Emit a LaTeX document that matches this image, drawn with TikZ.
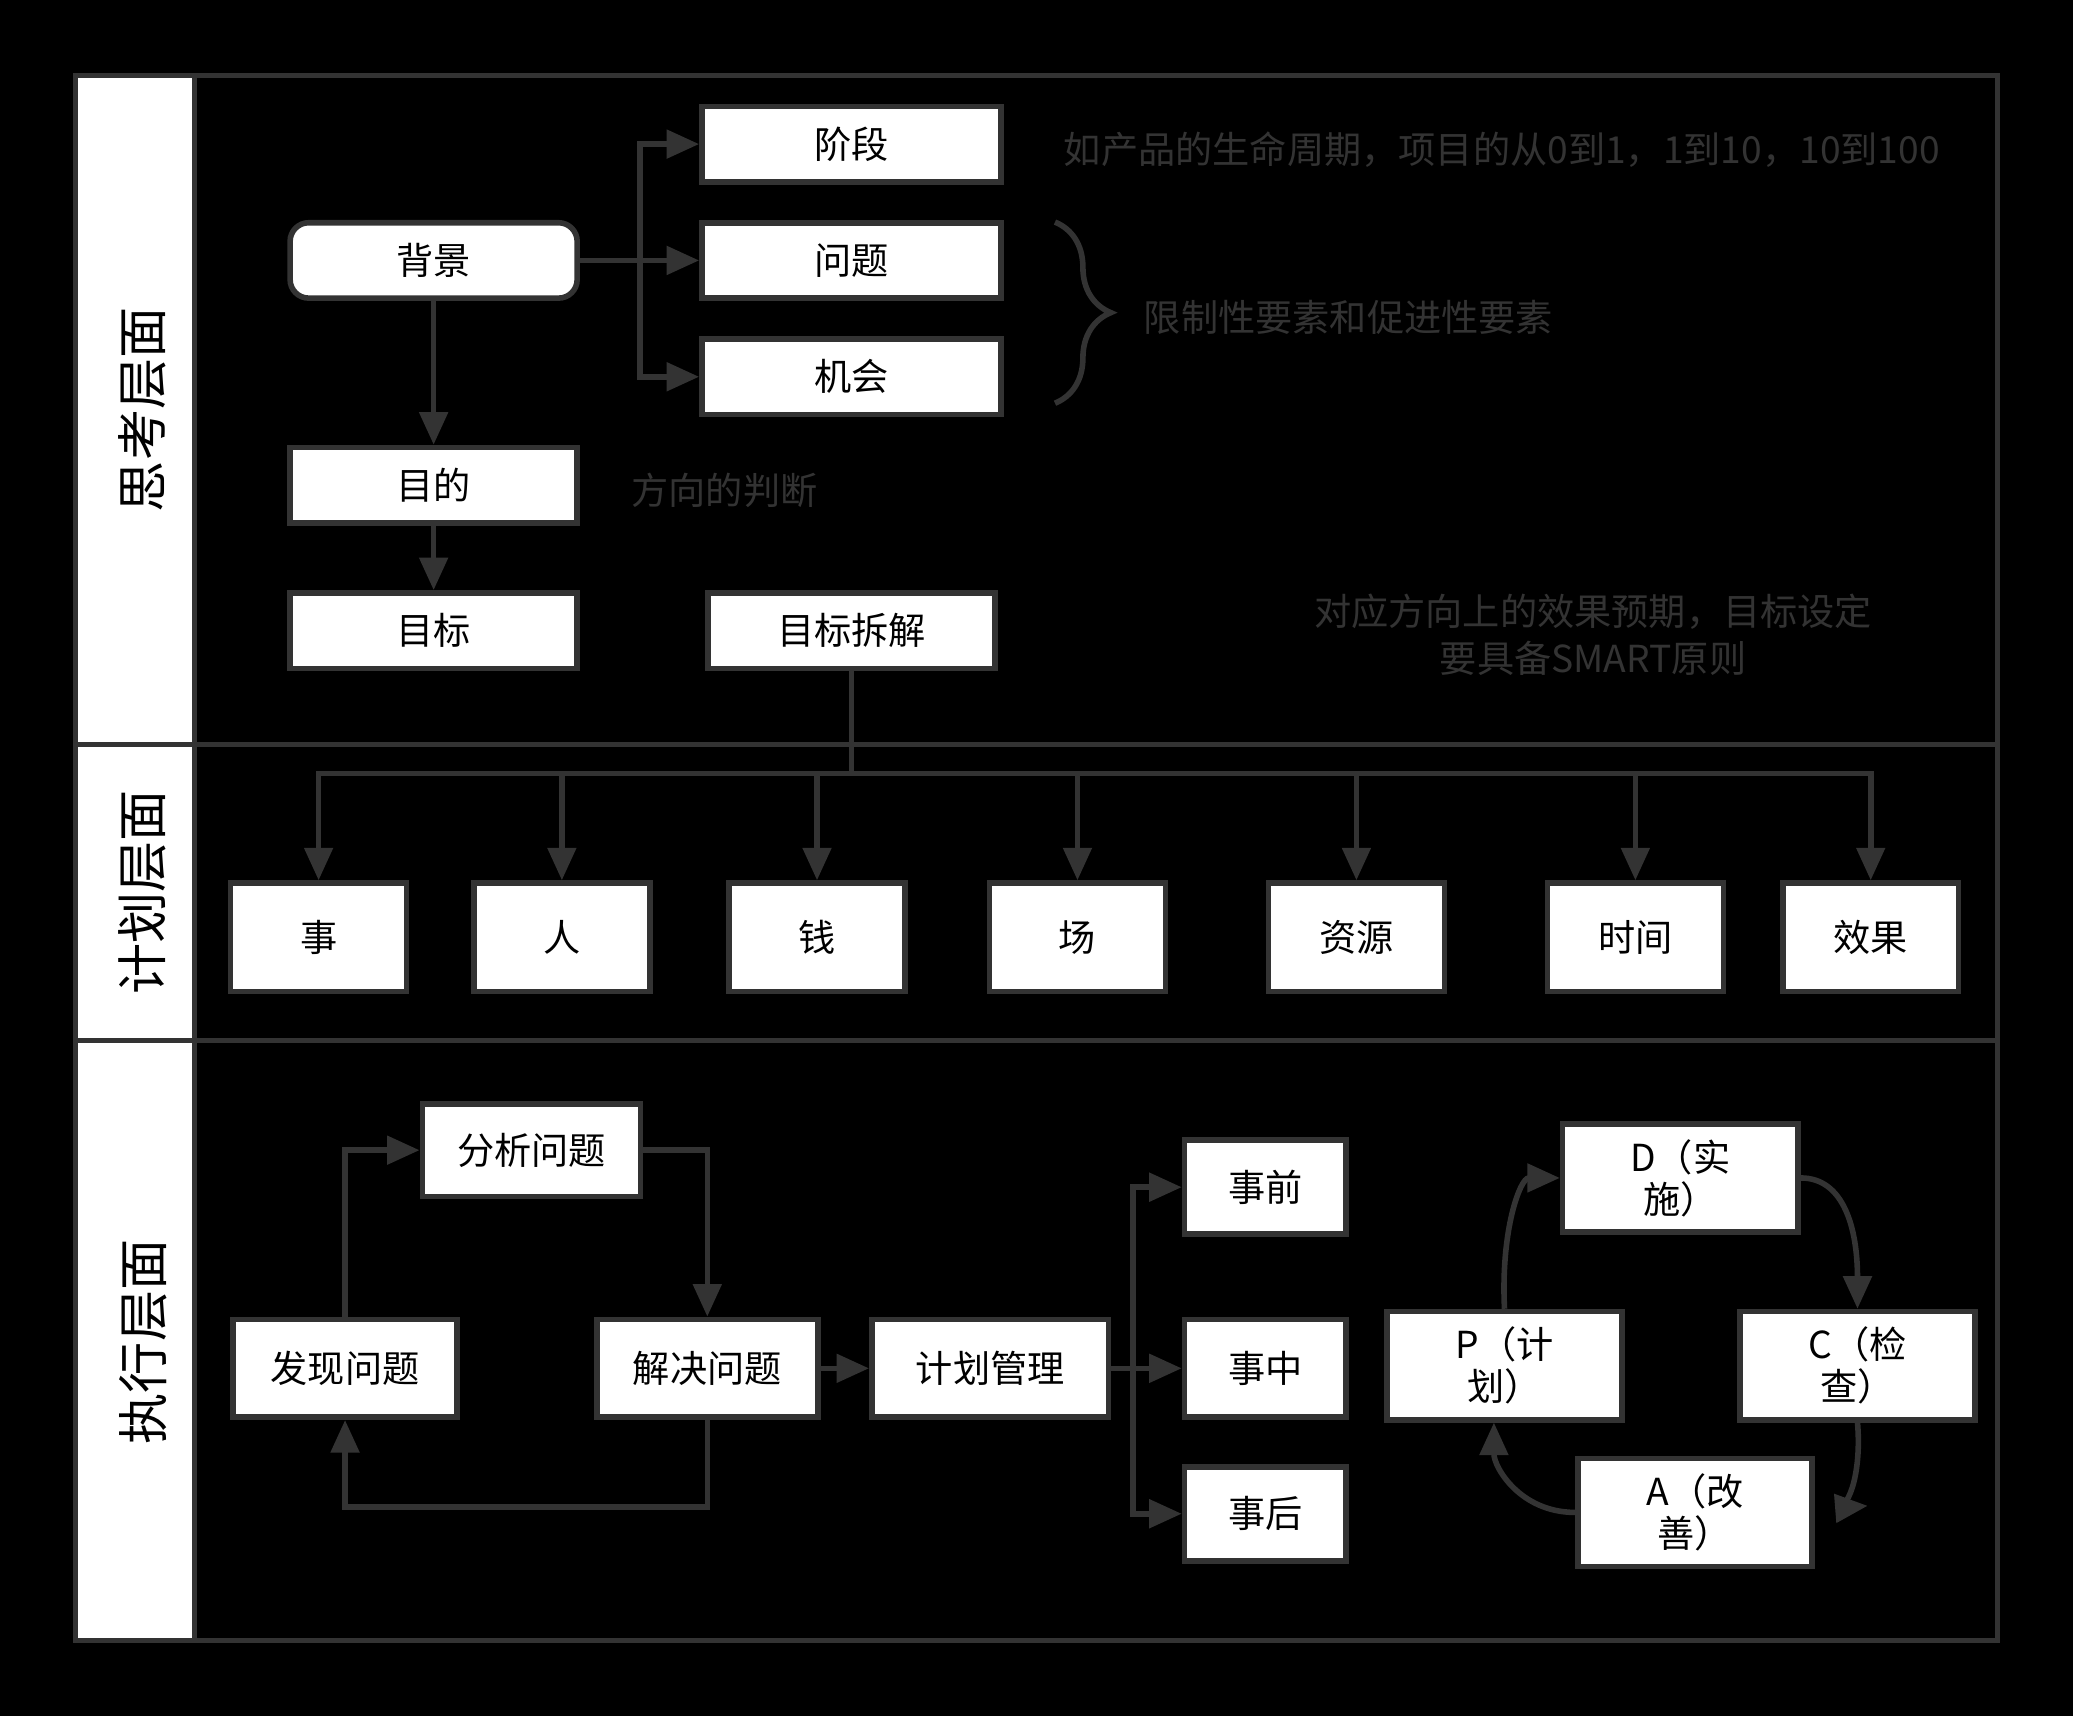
\documentclass[tikz,border=0pt]{standalone}
\usepackage{fontspec}
\setmainfont{Noto Sans CJK SC}
\usetikzlibrary{arrows.meta, positioning, calc, decorations.pathreplacing}
\definecolor{linegray}{RGB}{51, 51, 51}
\tikzstyle{box} = [rectangle, draw=linegray, line width=1.2pt, fill=white, minimum width=2.17cm, minimum height=0.57cm, text centered, text=black, font=\fontsize{8}{9}\selectfont]
\tikzstyle{plan} = [box, minimum width=1.33cm, minimum height=0.82cm]
\tikzstyle{stepbox} = [box]
\tikzstyle{note} = [text=linegray, font=\fontsize{8}{10}\selectfont, align=center]
\tikzstyle{arrow} = [line width=1.2pt, draw=linegray, -{Triangle[length=7pt,width=6pt]}]

\begin{document}
\begin{tikzpicture}[x=0.01cm, y=-0.01cm]
      \fill[black] (0,0) rectangle (1568,1298);
      \useasboundingbox (0,0) rectangle (1568,1298);
      % lanes
      \draw[linegray, line width=1.2pt] (57,57) rectangle (1511,1241);
      \draw[linegray, line width=1.2pt] (57,563) -- (1511,563);
      \draw[linegray, line width=1.2pt] (57,787) -- (1511,787);
      \draw[linegray, line width=1.2pt, fill=white] (57,57) rectangle (147,563);
      \draw[linegray, line width=1.2pt, fill=white] (57,563) rectangle (147,787);
      \draw[linegray, line width=1.2pt, fill=white] (57,787) rectangle (147,1241);
      \node[rotate=90, font=\fontsize{11}{12}\selectfont] (think) at (108,310) {思考层面};
      \node[rotate=90, font=\fontsize{11}{12}\selectfont] (planning) at (108,675) {计划层面};
      \node[rotate=90, font=\fontsize{11}{12}\selectfont] (exec) at (108,1015) {执行层面};

      % thinking
      \node[box, rounded corners=4pt] (bg) at (328,197) {背景};
      \node[box, minimum width=2.26cm] (stage) at (644,109) {阶段};
      \node[box, minimum width=2.26cm] (problem) at (644,197) {问题};
      \node[box, minimum width=2.26cm] (chance) at (644,285) {机会};
      \node[box] (purpose) at (328,367) {目的};
      \node[box] (goal) at (328,477) {目标};
      \node[box] (split) at (644,477) {目标拆解};
      \coordinate (fork) at (484,197);
      \node[note] (stagenote) at (1136,113) {如产品的生命周期，项目的从0到1，1到10，10到100};
      \draw[linegray, line width=1.2pt, decorate, decoration={brace, amplitude=12pt}] (798,168) -- (798,305);
      \node[note] (limitnote) at (1020,240) {限制性要素和促进性要素};
      \node[note] (dirnote) at (548,371) {方向的判断};
      \node[note] (smartnote) at (1205,480) {对应方向上的效果预期，目标设定\\要具备SMART原则};

      \draw[line width=1.2pt, linegray] (bg) -- (fork);
      \draw[arrow] (fork) |- (stage);
      \draw[arrow] (fork) -- (problem);
      \draw[arrow] (fork) |- (chance);
      \draw[arrow] (bg) -- (purpose);
      \draw[arrow] (purpose) -- (goal);

      % planning
      \coordinate (bar) at (644,585);
      \foreach \name/\x/\txt in {thing/241/事, people/425/人, money/618/钱, field/815/场, res/1026/资源, time/1237/时间, effect/1415/效果} {
        \node[plan] (\name) at (\x,709) {\txt};
        \draw[arrow] (split) |- (bar) -| (\name);
      }

      % execution
      \node[stepbox, minimum width=1.65cm, minimum height=0.7cm] (analyze) at (402,870) {分析问题};
      \node[stepbox, minimum width=1.69cm, minimum height=0.74cm] (find) at (261,1035) {发现问题};
      \node[stepbox, minimum width=1.67cm, minimum height=0.74cm] (solve) at (535,1035) {解决问题};
      \node[stepbox, minimum width=1.79cm, minimum height=0.74cm] (manage) at (749,1035) {计划管理};
      \node[stepbox, minimum width=1.22cm, minimum height=0.71cm] (before) at (957,898) {事前};
      \node[stepbox, minimum width=1.22cm, minimum height=0.74cm] (during) at (957,1035) {事中};
      \node[stepbox, minimum width=1.22cm, minimum height=0.71cm] (after) at (957,1145) {事后};
      \node[stepbox, minimum width=1.78cm, minimum height=0.74cm, align=center] (doit) at (1271,891) {D（实\\施）};
      \node[stepbox, minimum width=1.78cm, minimum height=0.74cm, align=center] (planit) at (1138,1033) {P（计\\划）};
      \node[stepbox, minimum width=1.78cm, minimum height=0.74cm, align=center] (check) at (1405,1033) {C（检\\查）};
      \node[stepbox, minimum width=1.77cm, minimum height=0.74cm, align=center] (act) at (1282,1144) {A（改\\善）};
      \coordinate (loop) at (535,1140);
      \coordinate (branch) at (857,1035);

      \draw[arrow] (find) |- (analyze);
      \draw[arrow] (analyze) -| (solve);
      \draw[arrow] (solve) -- (loop) -| (find);
      \draw[arrow] (solve) -- (manage);
      \draw[line width=1.2pt, linegray] (manage) -- (branch);
      \draw[arrow] (branch) |- (before);
      \draw[arrow] (branch) -- (during);
      \draw[arrow] (branch) |- (after);
      \draw[arrow] (planit.north) .. controls (1135,930) and (1150,891) .. (doit.west);
      \draw[arrow] (doit.east) .. controls (1395,891) and (1405,930) .. (check.north);
      \draw[arrow] (check.south) .. controls (1408,1110) and (1400,1140) .. ($(act.east)+(40,-5)$);
      \draw[arrow] (act.west) .. controls (1150,1144) and (1130,1110) .. ($(planit.south)+(-8,0)$);
    \end{tikzpicture}
\end{document}
